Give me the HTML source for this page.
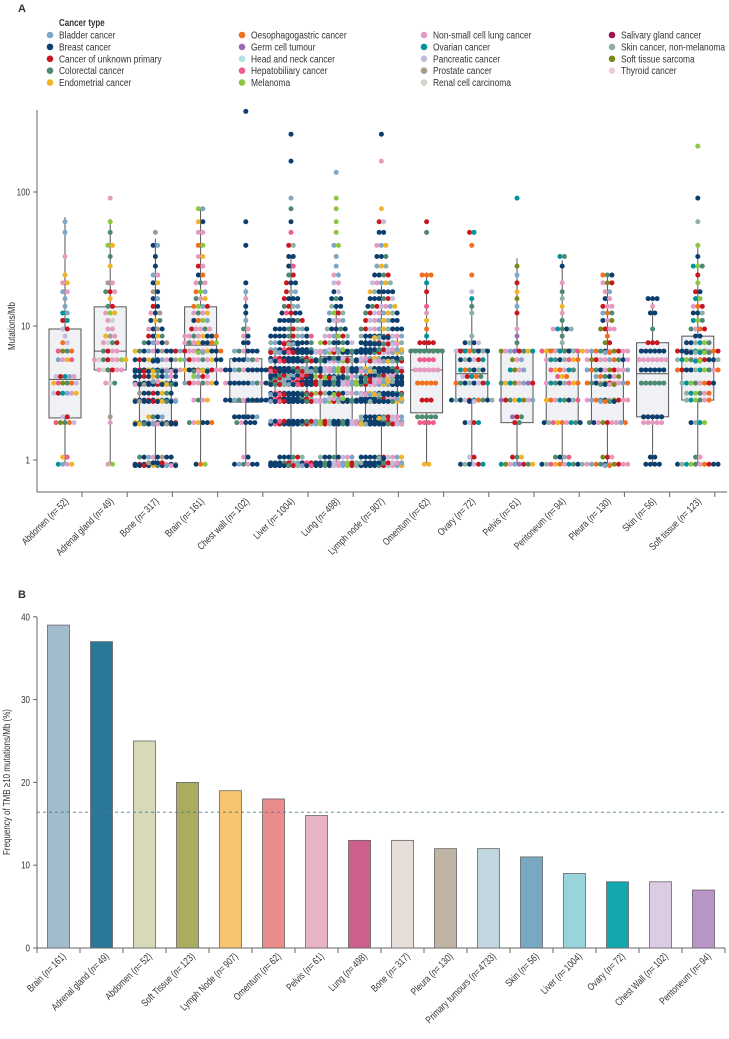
<!DOCTYPE html>
<html><head><meta charset="utf-8">
<style>
body{margin:0;background:#fff;width:729px;height:1034px;overflow:hidden;font-family:"Liberation Sans",sans-serif;}
svg text{font-family:"Liberation Sans",sans-serif;fill:#333;}
</style></head>
<body>
<svg id="chart" width="729" height="1034" viewBox="0 0 729 1034" xmlns="http://www.w3.org/2000/svg">
<text x="18" y="12" font-weight="bold" font-size="11">A</text>
<text x="18" y="598" font-weight="bold" font-size="11">B</text>
<g id="legend"></g>
<g id="panelA"></g>
<g id="panelB"></g>
</svg>
<script>
const legendNames=["Bladder cancer","Breast cancer","Cancer of unknown primary","Colorectal cancer","Endometrial cancer","Oesophagogastric cancer","Germ cell tumour","Head and neck cancer","Hepatobiliary cancer","Melanoma","Non-small cell lung cancer","Ovarian cancer","Pancreatic cancer","Prostate cancer","Renal cell carcinoma","Salivary gland cancer","Skin cancer, non-melanoma","Soft tissue sarcoma","Thyroid cancer"];
const legendColors=["#7fa6c4","#0d3f6e","#c8171d","#4e8a72","#f0b429","#f26f1d","#9b6bb5","#b5e1e6","#ef5b8a","#8dc63f","#e59ac0","#00939b","#c7b8de","#a59a8b","#d0d3c8","#a3104f","#8eb0a8","#7a8a1a","#f1cdd0"];

const sitesA=["Abdomen","Adrenal gland","Bone","Brain","Chest wall","Liver","Lung","Lymph node","Omentum","Ovary","Pelvis","Peritoneum","Pleura","Skin","Soft tissue"];
const nA=[52,49,317,161,102,1004,498,907,62,72,61,94,130,56,123];
const q1=[2.06,4.7,1.9,3.75,2.7,2.8,1.9,1.9,2.25,2.8,1.9,1.9,1.9,2.1,2.8];
const med=[4.0,6.5,3.7,7.2,4.7,4.7,5.9,3.75,4.7,4.4,3.75,3.75,3.75,4.4,5.6];
const q3=[9.5,13.9,5.6,13.9,5.7,6.6,6.6,8.4,6.7,6.7,6.5,6.7,6.5,7.5,8.4];
const whiskLo=[0.93,0.93,0.93,0.93,0.93,0.93,0.93,0.93,0.93,0.93,0.93,0.93,0.93,0.93,0.93];
const whiskHi=[65,63,45,77,19,33,14,20,25,15.8,32,31,23,15,41];
const levels=[0.93,1.05,1.9,2.1,2.8,3.15,3.75,4.2,4.7,5.6,6.5,7.5,8.4,9.5,11,12.5,14,16,18,21,24,28,33,40,50,60,75,90,110,140,170,220,270,400];
const cAbdomen=[4,2,5,2,0,6,6,5,0,4,4,2,1,2,2,2,1,1,2,2,1,0,1,0,1,1,0,0,0,0,0,0,0,0];
const cAdrenal=[2,0,1,1,0,0,3,0,6,8,4,4,3,2,2,3,2,1,3,2,0,1,1,2,1,1,0,1,0,0,0,0,0,0];
const cBone=[24,8,20,4,20,8,22,10,20,12,10,6,4,4,3,3,2,2,2,2,2,1,1,2,1,0,0,0,0,0,0,0,0,0];
const cBrain=[3,0,6,0,4,0,8,4,14,10,12,8,8,5,4,4,4,3,3,3,2,2,2,2,2,2,2,0,0,0,0,0,0,0];
const cChest=[6,2,5,6,10,0,10,0,10,6,6,2,2,2,1,1,1,1,1,1,0,0,0,1,0,1,0,0,0,0,0,0,0,1];
const cLiver=[40,6,30,0,40,20,60,30,60,40,40,14,10,8,6,5,4,4,3,3,2,2,2,2,1,1,1,1,0,0,1,0,1,0];
const cLung=[30,8,30,0,24,12,30,16,30,24,24,8,6,5,4,4,3,3,2,2,2,1,1,2,1,1,1,1,0,1,0,0,0,0];
const cLymph=[50,12,60,12,36,20,50,26,40,36,30,18,14,10,8,8,7,6,6,5,4,3,3,3,2,2,1,0,0,0,1,0,1,0];
const cOmentum=[2,0,4,5,3,0,5,0,6,4,8,4,1,1,1,1,1,0,1,1,3,0,0,0,1,1,0,0,0,0,0,0,0,0];
const cOvary=[6,2,4,0,12,0,8,5,6,6,8,4,1,0,0,1,1,1,1,0,1,0,0,1,2,0,0,0,0,0,0,0,0,0];
const cPelvis=[8,3,2,3,8,0,8,0,4,3,8,1,1,1,0,1,1,1,1,1,1,1,0,0,0,0,0,1,0,0,0,0,0,0];
const cPeritoneum=[10,4,9,0,8,0,8,3,6,8,10,1,1,5,1,1,1,1,1,1,0,1,2,0,0,0,0,0,0,0,0,0,0,0];
const cPleura=[12,3,9,0,14,0,14,6,10,10,12,2,1,4,3,3,3,2,2,3,3,0,0,0,0,0,0,0,0,0,0,0,0,0];
const cSkin=[4,2,5,5,0,0,6,0,6,7,6,3,0,1,0,2,1,3,0,0,0,0,0,0,0,0,0,0,0,0,0,0,0,0];
const cSoft=[10,2,4,0,6,6,8,0,10,12,16,6,2,4,3,3,3,2,2,1,1,3,1,1,0,1,0,1,0,0,0,1,0,0];
const countsA=[cAbdomen,cAdrenal,cBone,cBrain,cChest,cLiver,cLung,cLymph,cOmentum,cOvary,cPelvis,cPeritoneum,cPleura,cSkin,cSoft];
const palettes=[[11,4,3,2,10,17,12,0,8,5],[10,10,10,13,2,4,3,9,14],[1,1,1,1,1,10,3,2,13,0,4],[1,10,10,9,1,3,2,5,4,10,0],[1,1,1,1,1,10,3,0],[1,1,1,2,1,2,0,3,1,8,16],[1,1,0,16,3,10,2,1,12,9],[1,1,0,2,1,16,10,3,1,4,12],[4,11,3,10,5,2,8],[1,3,5,11,2,12,1,16],[11,4,3,2,6,0,10,17],[1,3,11,10,5,4,8,16],[10,1,10,3,2,5,17,0,10],[1,1,1,1,3,2,10],[1,3,1,9,2,11,5,16,10]];

const sitesB=["Brain","Adrenal gland","Abdomen","Soft Tissue","Lymph Node","Omentum","Pelvis","Lung","Bone","Pleura","Primary tumours","Skin","Liver","Ovary","Chest Wall","Peritoneum"];
const nB=[161,49,52,123,907,62,61,498,317,130,4733,56,1004,72,102,94];
const freqB=[39,37,25,20,19,18,16,13,13,12,12,11,9,8,8,7];
const barColors=["#a3bccb","#2a7898","#d8d9b6","#abac60","#f7c56f","#e98c8a","#e9b3c6","#cc5f8c","#e6ddd8","#bfb3a3","#c2d6df","#79a9c2","#98d4d9","#13a8ad","#dccbe3","#b795c6"];
const refLine=16.4;
const yTicksB=[0,10,20,30,40];
const yTicksA=[1,10,100];

const NS="http://www.w3.org/2000/svg";
const SX=0.8;
function mk(tag,attrs,parent,text){const e=document.createElementNS(NS,tag);for(const k in attrs)e.setAttribute(k,attrs[k]);if(text!==undefined)e.textContent=text;parent.appendChild(e);return e;}

// legend
const lg=document.getElementById('legend');
const ttl=mk('text',{x:0,y:0,'font-size':10,'font-weight':'bold',transform:`translate(59,26) scale(${SX},1)`},lg,'Cancer type');


const colX=[50,242,424,612];const rowsPerCol=[5,5,5,4];
let li=0;
for(let c=0;c<4;c++){for(let r=0;r<rowsPerCol[c];r++){
 const g=mk('g',{},lg);
 
 
 const y=35+r*11.9;
 mk('circle',{cx:colX[c],cy:y,r:3.3,fill:legendColors[li]},g);
 mk('text',{x:0,y:0,'font-size':10.5,transform:`translate(${colX[c]+9},${y+3.5}) scale(${SX},1)`},g,legendNames[li]);
 li++;}}

// panel A
const pa=document.getElementById('panelA');
function yA(v){return 460-134*Math.log10(v);}
function xA(i){return 65+i*45.2;}
const axA=mk('path',{d:'M37,110 L37,492 L727,492',stroke:'#666',fill:'none','stroke-width':1},pa);


yTicksA.forEach(v=>{const t=mk('g',{},pa);
 
 
 mk('line',{x1:33,x2:37,y1:yA(v),y2:yA(v),stroke:'#666'},t);
 mk('text',{x:0,y:0,'font-size':10,'text-anchor':'end',transform:`translate(30,${yA(v)+3.5}) scale(${SX},1)`},t,String(v));});
const yta=mk('text',{x:0,y:0,'font-size':10,'text-anchor':'middle',transform:`translate(15,326) rotate(-90) scale(${SX},1)`},pa,'Mutations/Mb');


for(let i=0;i<sitesA.length;i++){
 const g=mk('g',{},pa);
 
 
 const cx=xA(i);
 mk('line',{x1:cx,x2:cx,y1:yA(whiskHi[i]),y2:yA(whiskLo[i]),stroke:'#555','stroke-width':1},g);
 mk('rect',{x:cx-16,y:yA(q3[i]),width:32,height:yA(q1[i])-yA(q3[i]),fill:'#f0f1f4',stroke:'#555','stroke-width':1},g);
 mk('line',{x1:cx-16,x2:cx+16,y1:yA(med[i]),y2:yA(med[i]),stroke:'#555'},g);
 const pal=palettes[i];let k=0;
 countsA[i].forEach((cnt,li2)=>{
  const per=10;
  for(let d=0;d<cnt;d++){
   const line=Math.floor(d/per);const pos=d%per;
   const inLine=Math.min(per,cnt-line*per);
   const dx=(pos-(inLine-1)/2)*4.5;
   const dy=line===0?0:((line%2)?1.4:-1.4);
   const col=legendColors[pal[(k*7+li2*3)%pal.length]];k++;
   mk('circle',{cx:cx+dx,cy:yA(levels[li2])+dy,r:2.5,fill:col},g);
  }});
 mk('line',{x1:cx+17,x2:cx+17,y1:492,y2:497,stroke:'#666'},pa);
 const lb=mk('text',{x:0,y:0,'font-size':10,'text-anchor':'end',transform:`translate(${cx+4},502) rotate(-45) scale(${SX},1)`},pa);
 
 
 lb.innerHTML=sitesA[i]+' (<tspan font-style="italic">n</tspan>=\u2009'+nA[i]+')';
}

// panel B
const pb=document.getElementById('panelB');
function yB(v){return 948-v*8.28;}
function xB(i){return 58.5+i*43;}
const axB=mk('path',{d:'M37,617 L37,948 L725,948',stroke:'#666',fill:'none'},pb);


yTicksB.forEach(v=>{const t=mk('g',{},pb);
 
 
 mk('line',{x1:33,x2:37,y1:yB(v),y2:yB(v),stroke:'#666'},t);
 mk('text',{x:0,y:0,'font-size':10,'text-anchor':'end',transform:`translate(30,${yB(v)+3.5}) scale(${SX},1)`},t,String(v));});
const ytb=mk('text',{x:0,y:0,'font-size':10,'text-anchor':'middle',transform:`translate(10,782) rotate(-90) scale(${SX},1)`},pb,'Frequency of TMB \u226510 mutations/Mb (%)');


for(let i=0;i<freqB.length;i++){
 const r=mk('rect',{x:xB(i)-11,y:yB(freqB[i]),width:22,height:yB(0)-yB(freqB[i]),fill:barColors[i],stroke:'#666','stroke-width':0.8},pb);
 
 
 mk('line',{x1:37+i*43,x2:37+i*43,y1:948,y2:953,stroke:'#666'},pb);
 const lb=mk('text',{x:0,y:0,'font-size':10,'text-anchor':'end',transform:`translate(${xB(i)+8},957) rotate(-45) scale(${SX},1)`},pb);
 
 
 lb.innerHTML=sitesB[i]+' (<tspan font-style="italic">n</tspan>=\u2009'+nB[i]+')';
}
mk('line',{x1:725,x2:725,y1:948,y2:953,stroke:'#666'},pb);
const rl=mk('line',{x1:37,x2:727,y1:yB(refLine),y2:yB(refLine),stroke:'#4a7a9a','stroke-dasharray':'3,3','stroke-width':0.9},pb);


</script>
</body></html>
